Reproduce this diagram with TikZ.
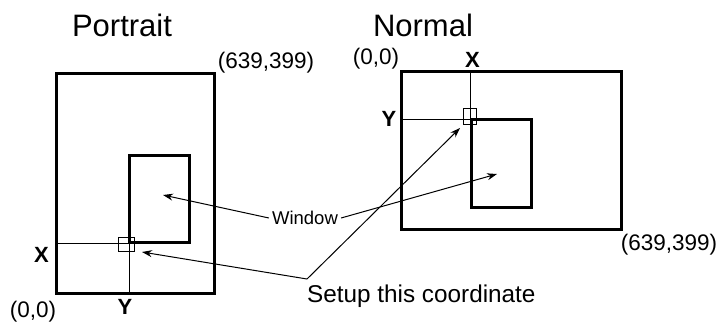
\documentclass[tikz,border=0pt]{standalone}
\usepackage{fontspec}
\setmainfont{Liberation Sans}
\usetikzlibrary{arrows.meta}
\tikzset{
  screen/.style={draw=black, line width=3pt, line join=miter},
  guide/.style={draw=black, line width=1pt},
  marker/.style={draw=black, line width=1pt},
  pointer/.style={draw=black, line width=1pt, -{Stealth[length=10pt,width=7pt]}},
  modetitle/.style={font=\fontsize{31}{34}\selectfont, inner sep=0pt},
  cornerlabel/.style={font=\fontsize{22.5}{25}\selectfont, inner sep=0pt},
  axislabel/.style={font=\bfseries\fontsize{22}{25}\selectfont, inner sep=0pt},
  calloutlabel/.style={font=\fontsize{24.3}{27}\selectfont, inner sep=0pt},
}

\begin{document}
\begin{tikzpicture}[x=1pt,y=-1pt]
\useasboundingbox (0,0) rectangle (719,322);
% portrait screen
\node[modetitle] (portraitTitle) at (122,25) {Portrait};
\draw[screen] (56,73) rectangle (214,293);
\draw[screen] (129,155) rectangle (189,242);
\draw[guide] (56,243) -- (129,243) -- (129,293);
\draw[marker] (118,237) rectangle (134,251);
\coordinate (portraitWin) at (163,195);
\coordinate (portraitMark) at (142,252);
\node[cornerlabel] (portraitMax) at (266,63) {(639,399)};
\node[cornerlabel] (portraitZero) at (33,312) {(0,0)};
\node[axislabel] (portraitX) at (41.5,255) {X};
\node[axislabel] (portraitY) at (125,307) {Y};
% normal screen
\node[modetitle] (normalTitle) at (423,25) {Normal};
\draw[screen] (401,71) rectangle (621,229);
\draw[screen] (471,119) rectangle (531,207);
\draw[guide] (470,71) -- (470,119) -- (401,119);
\draw[marker] (463,108) rectangle (476,124);
\coordinate (normalWin) at (497,174);
\coordinate (normalMark) at (460,128);
\node[cornerlabel] (normalZero) at (376,59) {(0,0)};
\node[cornerlabel] (normalMax) at (669,245) {(639,399)};
\node[axislabel] (normalX) at (472.5,59.5) {X};
\node[axislabel] (normalY) at (389,119) {Y};
% callouts
\node[font=\fontsize{18.5}{20}\selectfont, inner sep=3pt] (window) at (305,218) {Window};
\node[calloutlabel, anchor=base west] (setup) at (307,302) {Setup this coordinate};
\coordinate (setupBend) at (307,279);
\draw[pointer] (window.west) -- (portraitWin);
\draw[pointer] (window.east) -- (normalWin);
\draw[pointer] (setupBend) -- (portraitMark);
\draw[pointer] (setupBend) -- (normalMark);
\end{tikzpicture}
\end{document}
